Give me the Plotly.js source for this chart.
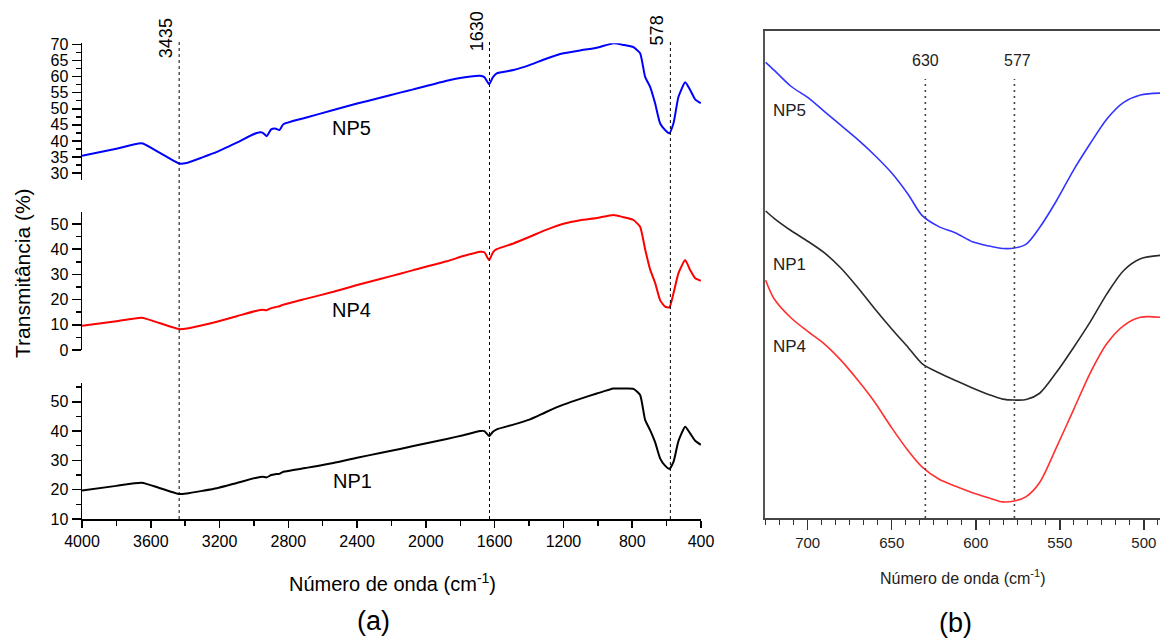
<!DOCTYPE html>
<html>
<head>
<meta charset="utf-8">
<script src="https://cdn.plot.ly/plotly-3.0.1.min.js"></script>
<style>
  html, body { margin: 0; padding: 0; background: #fff; }
  #chart { width: 1160px; height: 639px; }
</style>
</head>
<body>
<div id="chart"></div>
<script>
// FTIR spectra, full range (a)
const wavenumbers = [4000, 3800, 3653, 3550, 3435, 3391, 3300, 3216, 3100, 2984, 2950, 2926, 2900, 2877, 2852, 2829, 2700, 2538, 2400, 2266, 2150, 2073, 1879, 1782, 1685, 1660, 1632, 1610, 1588, 1491, 1394, 1297, 1200, 1103, 1006, 909, 851, 793, 754, 725, 696, 667, 638, 609, 584, 560, 531, 492, 463, 434, 401];
const np5 = [35.4, 37.6, 39.3, 36.4, 33.0, 33.2, 34.9, 36.6, 39.5, 42.5, 42.6, 41.5, 43.6, 43.9, 43.4, 45.2, 47.2, 49.6, 51.6, 53.4, 55.0, 56.0, 58.7, 59.7, 60.2, 59.8, 57.6, 59.8, 61.0, 62.0, 63.6, 65.6, 67.2, 68.1, 68.9, 70.3, 69.8, 69.1, 67.2, 59.9, 56.8, 51.7, 45.5, 43.4, 42.4, 45.5, 53.7, 58.2, 55.8, 52.9, 51.7];
const np4 = [9.6, 11.4, 12.8, 10.7, 8.3, 8.5, 9.8, 11.2, 13.4, 15.6, 16.0, 15.8, 16.6, 17.0, 17.4, 18.0, 20.3, 23.1, 25.8, 28.2, 30.3, 31.7, 35.2, 37.3, 39.0, 38.8, 35.7, 38.8, 40.0, 42.3, 45.0, 47.8, 50.1, 51.5, 52.4, 53.6, 52.7, 51.6, 48.9, 40.0, 32.0, 26.7, 19.8, 17.2, 16.9, 22.5, 30.5, 35.7, 31.7, 28.5, 27.5];
const np1 = [19.7, 21.3, 22.4, 20.6, 18.5, 18.7, 19.6, 20.5, 22.3, 24.1, 24.4, 24.2, 25.0, 25.3, 25.4, 26.1, 27.4, 29.1, 30.9, 32.5, 33.9, 34.9, 37.3, 38.6, 40.0, 40.0, 38.3, 39.8, 40.6, 42.2, 44.0, 46.6, 49.0, 51.0, 52.8, 54.5, 54.5, 54.4, 52.3, 43.8, 40.3, 36.2, 30.7, 28.2, 27.1, 29.5, 36.6, 41.5, 39.2, 36.7, 35.3];
const bandsA = [3435, 1630, 578];

// Fe–O region detail (b), arbitrary transmittance units
const wavenumbersB = [725, 720, 710, 700, 690, 680, 670, 660, 650, 640, 632, 622, 612, 602, 592, 584, 577, 570, 562, 552, 542, 532, 522, 512, 502, 490];
const np5B = [93.5, 91.9, 88.6, 86.3, 83.4, 80.5, 77.6, 74.4, 70.8, 66.3, 62.1, 59.8, 58.5, 56.7, 55.8, 55.3, 55.4, 56.2, 59.6, 65.1, 71.3, 76.8, 81.9, 85.3, 86.8, 87.2];
const np1B = [63.0, 61.5, 59.0, 56.8, 54.4, 51.2, 47.2, 42.9, 38.8, 34.9, 31.7, 29.8, 28.2, 26.7, 25.3, 24.4, 24.2, 24.3, 25.6, 29.9, 34.9, 40.2, 46.0, 50.8, 53.2, 53.9];
const np4B = [48.8, 45.0, 41.1, 38.3, 35.7, 32.3, 28.2, 23.7, 18.5, 13.7, 10.5, 8.0, 6.5, 5.2, 4.1, 3.3, 3.5, 4.4, 7.3, 14.5, 22.1, 29.7, 35.8, 39.5, 41.2, 41.2];
const bandsB = [630, 577];

const W = 1160, H = 639;
const px = v => v / W;
const py = v => 1 - v / H;

const FONT = 'Liberation Sans, Arial, sans-serif';

const lineA = (x, y, color, ya) => ({
  x, y, xaxis: 'x', yaxis: ya, type: 'scatter', mode: 'lines',
  line: { color, width: 2, shape: 'spline', smoothing: 0.5 }, hoverinfo: 'skip'
});
const lineB = (x, y, color) => ({
  x, y, xaxis: 'x2', yaxis: 'y4', type: 'scatter', mode: 'lines',
  line: { color, width: 1.6, shape: 'spline', smoothing: 0.8 }, hoverinfo: 'skip'
});

const data = [
  lineA(wavenumbers, np5, '#0000ff', 'y'),
  lineA(wavenumbers, np4, '#ff0000', 'y2'),
  lineA(wavenumbers, np1, '#000000', 'y3'),
  lineB(wavenumbersB, np5B, '#3434ff'),
  lineB(wavenumbersB, np1B, '#2a2a2a'),
  lineB(wavenumbersB, np4B, '#ff3030')
];

const yAxisA = (domain, range, dtick, minor) => ({
  domain, range, dtick, tick0: 0, anchor: 'x', position: px(82),
  showline: true, linecolor: '#000', linewidth: 1.5,
  ticks: 'outside', ticklen: 9, tickwidth: 1.5, tickcolor: '#000',
  minor: { dtick: minor, ticks: 'outside', ticklen: 5, tickwidth: 1.5, tickcolor: '#000' },
  showgrid: false, zeroline: false,
  tickfont: { family: FONT, size: 16, color: '#000' }
});

const layout = {
  width: W, height: H,
  margin: { l: 0, r: 0, t: 0, b: 0 },
  paper_bgcolor: '#fff', plot_bgcolor: 'rgba(0,0,0,0)',
  showlegend: false,
  xaxis: {
    domain: [px(82), px(701)], range: [4000, 400], anchor: 'y3',
    tickvals: [4000, 3600, 3200, 2800, 2400, 2000, 1600, 1200, 800, 400],
    showline: true, linecolor: '#000', linewidth: 1.5,
    ticks: 'outside', ticklen: 7, tickwidth: 1.5, tickcolor: '#000',
    minor: { dtick: 200, tick0: 0, ticks: 'outside', ticklen: 5, tickwidth: 1.5, tickcolor: '#000' },
    showgrid: false, zeroline: false,
    tickfont: { family: FONT, size: 16, color: '#000' }
  },
  yaxis: yAxisA([py(180), py(43.3)], [27.9, 70.3], 5, 2.5),
  yaxis2: yAxisA([py(350), py(211.7)], [0, 54.9], 10, 5),
  yaxis3: yAxisA([py(519), py(383)], [10, 56.4], 10, 5),
  xaxis2: {
    domain: [px(765), 1], range: [725.4, 490.4], anchor: 'y4',
    tick0: 500, dtick: 50,
    showline: true, mirror: true, linecolor: '#444', linewidth: 2,
    ticks: 'outside', ticklen: 10, tickwidth: 1.5, tickcolor: '#333',
    minor: { tick0: 500, dtick: 50 / 6, ticks: 'outside', ticklen: 5, tickwidth: 1.2, tickcolor: '#333' },
    showgrid: false, zeroline: false,
    tickfont: { family: FONT, size: 15, color: '#222' }
  },
  yaxis4: {
    domain: [py(518), py(30.7)], range: [0, 100], anchor: 'x2',
    showline: true, linecolor: '#555', linewidth: 2,
    ticks: '', showticklabels: false, showgrid: false, zeroline: false
  },
  shapes: [],
  annotations: []
};

// dotted band markers
bandsA.forEach(b => layout.shapes.push({
  type: 'line', xref: 'x', yref: 'paper', x0: b, x1: b, y0: py(519), y1: py(42),
  line: { color: '#000', width: 1, dash: 'dot' }
}));
bandsB.forEach(b => layout.shapes.push({
  type: 'line', xref: 'x2', yref: 'paper', x0: b, x1: b, y0: py(518), y1: py(79),
  line: { color: '#444', width: 1.6, dash: '2px,4px' }
}));

const note = (text, x, y, size, opts = {}) => layout.annotations.push(Object.assign({
  text, x, y, xref: 'paper', yref: 'paper', showarrow: false,
  xanchor: 'center', yanchor: 'middle',
  font: { family: FONT, size, color: '#000' }
}, opts));

// band labels (a)
const bandLabelY = { 3435: 38, 1630: 31.7, 578: 30 };
bandsA.forEach(b => layout.annotations.push({
  text: String(b), x: b, xref: 'x', y: py(bandLabelY[b]), yref: 'paper',
  xshift: -13, textangle: -90, showarrow: false, xanchor: 'center', yanchor: 'middle',
  font: { family: FONT, size: 18, color: '#000' }
}));
// band labels (b)
bandsB.forEach(b => layout.annotations.push({
  text: String(b), x: b, xref: 'x2', y: py(60), yref: 'paper', xshift: b === 630 ? 0 : 3,
  showarrow: false, xanchor: 'center', yanchor: 'middle',
  font: { family: FONT, size: 16, color: '#222' }
}));

// series names
note('NP5', px(351), py(128), 20);
note('NP4', px(351), py(310), 20);
note('NP1', px(352), py(481), 20);
const fontB = { font: { family: FONT, size: 17, color: '#222' } };
note('NP5', px(789), py(110), 17, fontB);
note('NP1', px(789), py(264), 17, fontB);
note('NP4', px(789), py(346), 17, fontB);

// axis titles and panel captions
note('Transmitância (%)', px(23), py(273), 21, { textangle: -90 });
note('Número de onda (cm<sup>-1</sup>)', px(392), py(582), 20);
note('Número de onda (cm<sup>-1</sup>)', px(963), py(577), 16, { font: { family: FONT, size: 16, color: '#222' } });
note('(a)', px(373), py(621), 27);
note('(b)', px(955), py(623), 27);

Plotly.newPlot('chart', data, layout, { staticPlot: true, displayModeBar: false });
</script>
</body>
</html>
